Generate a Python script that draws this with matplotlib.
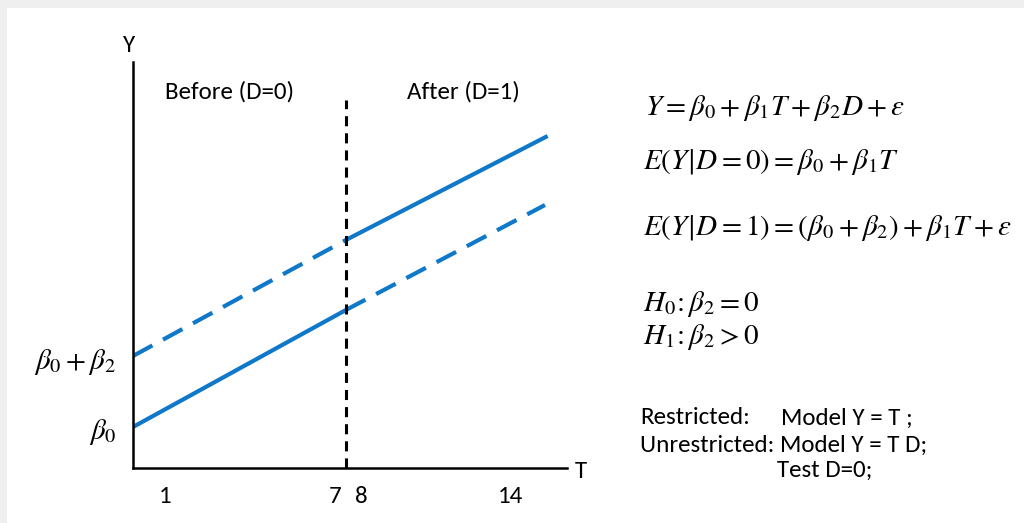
import matplotlib.pyplot as plt
from matplotlib.patches import Rectangle

plt.rcParams['mathtext.fontset'] = 'stix'

# data (T on the x axis, Y in arbitrary units)
t_before = [-0.42, 7.6]
t_after = [7.6, 15.1]
t_after_up = [7.6, 15.2]
y_control_before = [4.1, 15.8]   # D=0 line, solid before
y_control_after = [15.8, 26.3]   # D=0 line, dashed after
y_treat_before = [11.2, 22.8]    # D=1 line, dashed before
y_treat_after = [22.8, 33.2]     # D=1 line, solid after
t_cut = 7.6
cut_top = 36.8

x_ticks = [0.78, 7.2, 8.2, 13.8]
x_tick_labels = ['1', '7', '8', '14']
y_ticks = [4.0, 11.0]
y_tick_labels = [r'$\beta_0$', r'$\beta_0+\beta_2$']

W, H = 1024, 523
blue = '#0f78c8'
sans = ['Carlito', 'Roboto', 'DejaVu Sans']


def px(x, y):
    return x / W, 1 - y / H


fig = plt.figure(figsize=(10.24, 5.23), dpi=100)
fig.patch.set_facecolor('white')
# light grey frame of the screenshot
fig.add_artist(Rectangle((0, 1 - 8 / H), 1, 8 / H, transform=fig.transFigure,
                         color='#efefef', lw=0))
fig.add_artist(Rectangle((0, 0), 7 / W, 1, transform=fig.transFigure,
                         color='#efefef', lw=0))

ax = fig.add_axes([133 / W, 55 / H, (567 - 133) / W, (468 - 62) / H])
ax.set_xlim(-0.42, 15.93)
ax.set_ylim(0, 40.6)
for s in ['top', 'right']:
    ax.spines[s].set_visible(False)
for s in ['left', 'bottom']:
    ax.spines[s].set_linewidth(1.8)
    ax.spines[s].set_color('black')

ax.plot(t_before, y_control_before, color=blue, lw=3, solid_capstyle='butt')
ax.plot(t_after, y_control_after, color=blue, lw=3, dashes=(5.3, 2.9))
ax.plot(t_before, y_treat_before, color=blue, lw=3, dashes=(5.3, 2.9))
ax.plot(t_after_up, y_treat_after, color=blue, lw=3, solid_capstyle='butt')
ax.plot([t_cut, t_cut], [0, cut_top], color='black', lw=2.2, dashes=(3.3, 2.3))

ax.set_xticks(x_ticks)
ax.set_xticklabels(x_tick_labels, family=sans, fontsize=18)
ax.set_yticks(y_ticks)
ax.set_yticklabels(y_tick_labels, fontsize=21)
ax.tick_params(axis='x', length=0, pad=13)
ax.tick_params(axis='y', length=0, pad=12)

ax.text(0.78, 37.6, 'Before (D=0)', family=sans, fontsize=18, va='center')
ax.text(9.9, 37.6, 'After (D=1)', family=sans, fontsize=18, va='center')

fig.text(*px(129, 45), 'Y', family=sans, fontsize=18, ha='center', va='center')
fig.text(*px(581, 472), 'T', family=sans, fontsize=18, ha='center', va='center')

eqs = [
    (645, 108, r'$Y=\beta_0+\beta_1T+\beta_2D+\varepsilon$'),
    (643, 162, r'$E(Y\!\mid\! D=0)=\beta_0+\beta_1T$'),
    (643, 228, r'$E(Y\!\mid\! D=1)=(\beta_0+\beta_2)+\beta_1T+\varepsilon$'),
    (643, 304, r'$H_0\!:\beta_2=0$'),
    (643, 337, r'$H_1\!:\beta_2>0$'),
]
for x, y, s in eqs:
    fig.text(*px(x, y), s, fontsize=21, ha='left', va='center')

fig.text(*px(640, 418), 'Restricted:', family=sans, fontsize=18, va='center')
fig.text(*px(781, 418), 'Model Y = T ;', family=sans, fontsize=18, va='center')
fig.text(*px(640, 445), 'Unrestricted: Model Y = T D;', family=sans,
         fontsize=18, va='center')
fig.text(*px(777, 470), 'Test D=0;', family=sans, fontsize=18, va='center')

fig.savefig('out.png', dpi=100)
